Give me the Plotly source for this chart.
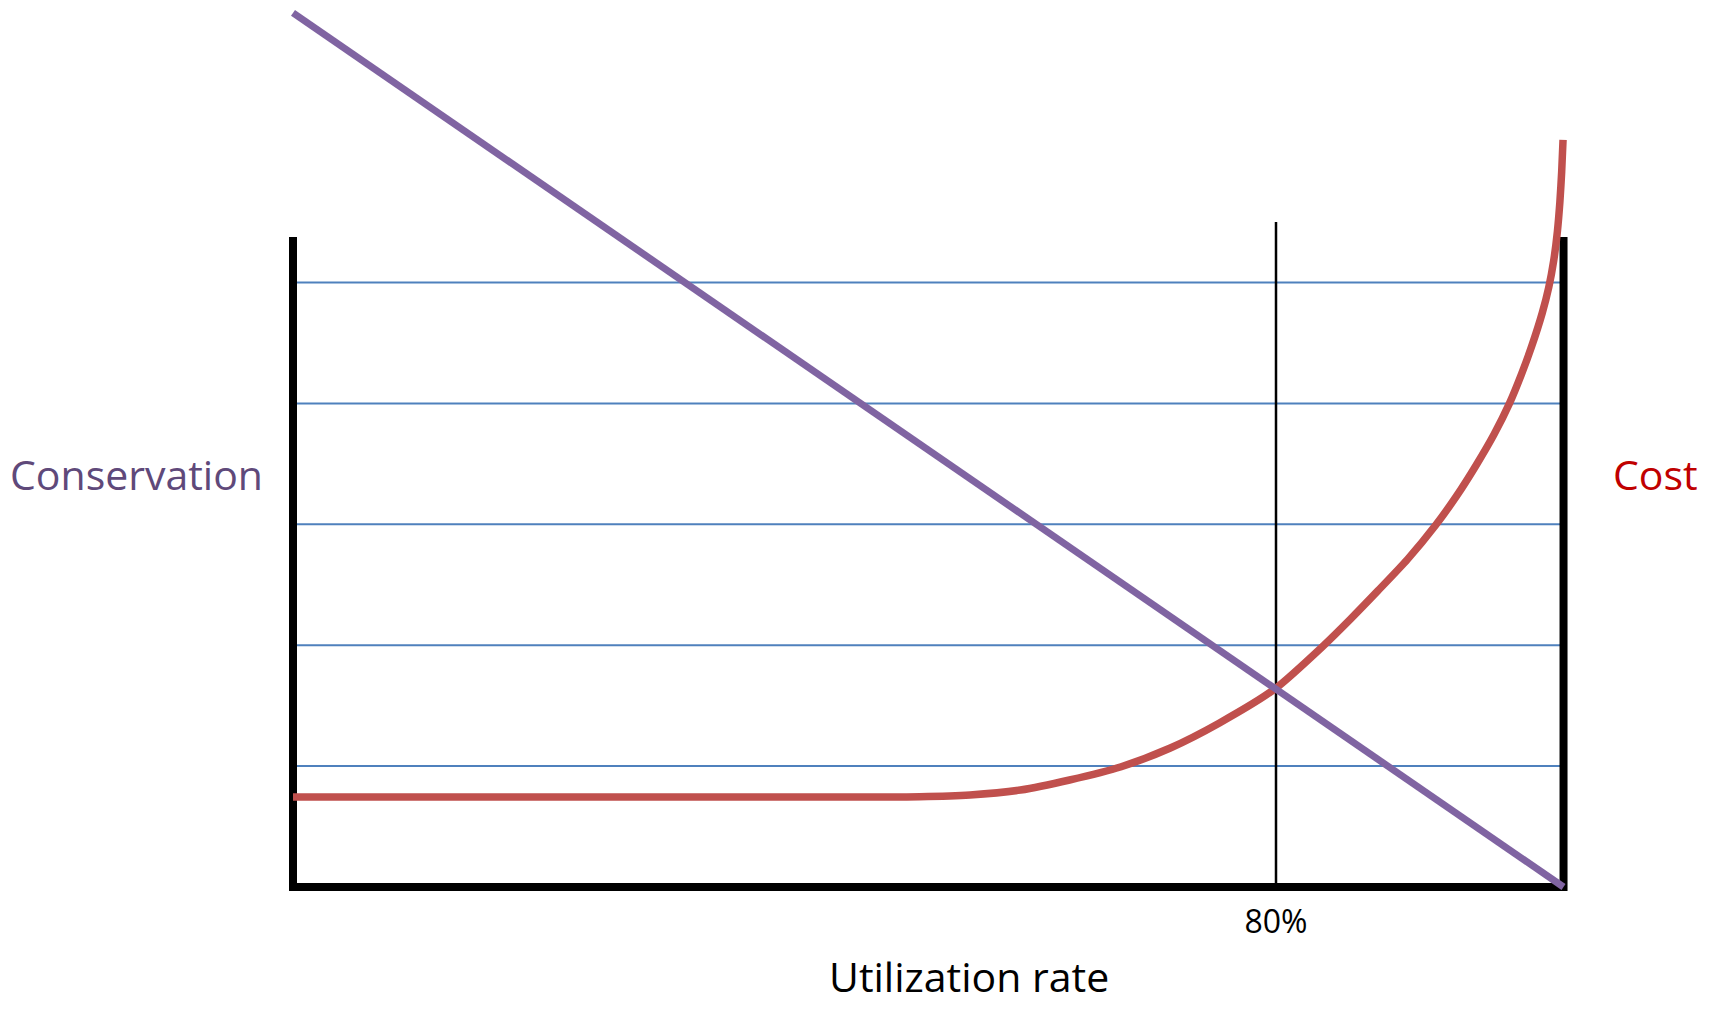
import plotly.graph_objects as go

# ---- data (schematic units) ----
cost_x = [0, 45, 51.0, 55.1, 59.2, 63.2, 67.4, 71.4, 75.4, 79.9, 83.9, 86.1, 88.3, 90.7, 93.0, 94.7, 96.3,
          97.75, 99.0, 99.98, 100.8, 101.67, 102.2, 102.6, 102.9, 103.1, 103.25, 103.36]
cost_y = [0.745, 0.745, 0.747, 0.761, 0.802, 0.885, 0.995, 1.15, 1.357, 1.638, 2.0, 2.22, 2.451, 2.71, 2.994,
          3.235, 3.491, 3.745, 4.0, 4.242, 4.47, 4.749, 4.961, 5.181, 5.421, 5.661, 5.916, 6.18]

conservation_x = [0, 103.4]
conservation_y = [7.23, 0]

grid_levels = [1, 2, 3, 4, 5]
tick_vals = [80]
tick_text = ["80%"]
axis_top = 5.376
marker_top = 5.5
x_end = 103.4

# ---- pixel geometry (figure coords; page adds an 8px body margin) ----
W, H = 1699, 1001
px_per_x = 12.2875
px_per_y = 120.9
x0_px, y0_px = 285, 879          # where data (0,0) sits
L, R, T, B = 272, 1650, 0, 892   # plot area edges
x_min = (L - x0_px) / px_per_x
x_max = (R - x0_px) / px_per_x
y_max = (y0_px - T) / px_per_y
y_min = (y0_px - B) / px_per_y


def px_to_paper_x(px):
    return (px - L) / (R - L)


def px_to_paper_y(py):
    return (B - py) / (B - T)


FONT = "Open Sans"

fig = go.Figure()
fig.add_trace(go.Scatter(
    x=cost_x, y=cost_y, mode="lines",
    line=dict(color="#C0504D", width=7.5, shape="spline", smoothing=0.7),
    hoverinfo="skip", showlegend=False, cliponaxis=False,
))
fig.add_trace(go.Scatter(
    x=conservation_x, y=conservation_y, mode="lines",
    line=dict(color="#8064A2", width=7),
    hoverinfo="skip", showlegend=False, cliponaxis=False,
))

# horizontal grid lines between the two spines
for lvl in grid_levels:
    fig.add_shape(
        type="line", x0=0, x1=x_end, y0=lvl, y1=lvl, xref="x", yref="y",
        line=dict(color="#4F81BD", width=2), layer="below",
    )

# spines (left, bottom, right) as one open path
fig.add_shape(
    type="path",
    path=f"M 0,{axis_top} L 0,0 L {x_end},0 L {x_end},{axis_top}",
    xref="x", yref="y", line=dict(color="black", width=8), layer="between",
)
# 80% marker line
fig.add_shape(
    type="line", x0=tick_vals[0], x1=tick_vals[0], y0=0, y1=marker_top,
    xref="x", yref="y", line=dict(color="black", width=2.5), layer="between",
)

fig.add_annotation(
    x=px_to_paper_x(257), y=px_to_paper_y(466), xref="paper", yref="paper",
    text="Conservation", showarrow=False, xanchor="right", yanchor="middle",
    font=dict(family=FONT, size=41, color="#5F497A"),
)
fig.add_annotation(
    x=px_to_paper_x(1603), y=px_to_paper_y(466), xref="paper", yref="paper",
    text="Cost", showarrow=False, xanchor="left", yanchor="middle",
    font=dict(family=FONT, size=41, color="#C00000"),
)
# x-axis title
fig.add_annotation(
    x=px_to_paper_x(961), y=px_to_paper_y(968), xref="paper", yref="paper",
    text="Utilization rate", showarrow=False, xanchor="center", yanchor="middle",
    font=dict(family=FONT, size=41, color="black"),
)

fig.update_layout(
    width=W, height=H,
    margin=dict(l=L, r=W - R, t=T, b=H - B, pad=0, autoexpand=False),
    paper_bgcolor="white", plot_bgcolor="white",
    xaxis=dict(
        range=[x_min, x_max], showgrid=False, zeroline=False, showline=False,
        tickvals=tick_vals, ticktext=tick_text, ticks="", ticklabelstandoff=0,
        tickfont=dict(family=FONT, size=32, color="black"), automargin=False,
    ),
    yaxis=dict(
        range=[y_min, y_max], showgrid=False, showticklabels=False, automargin=False,
        zeroline=False, showline=False, ticks="",
    ),
)

fig.write_html("out.html")
